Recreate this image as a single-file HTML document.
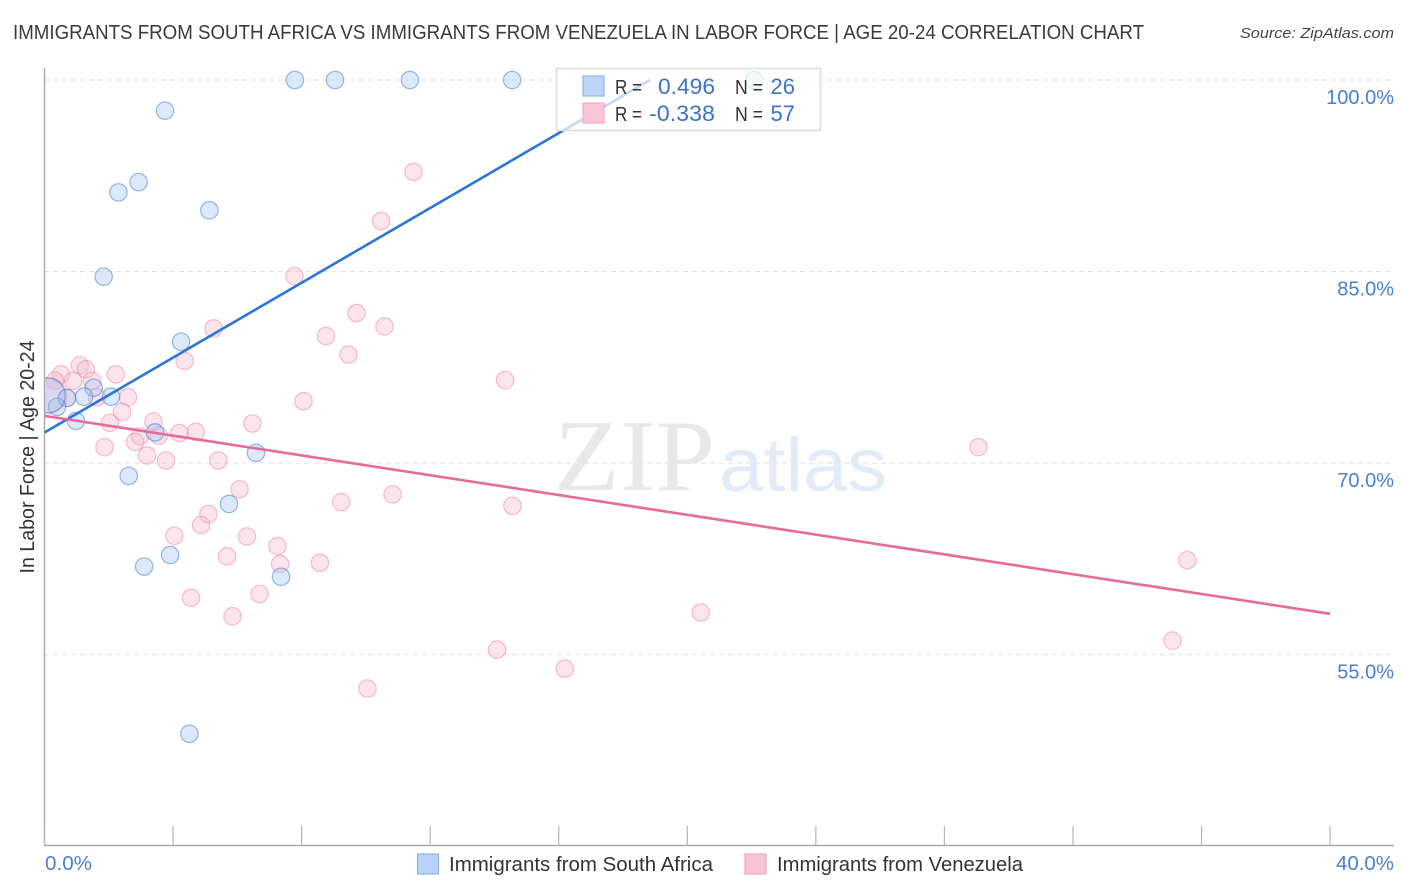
<!DOCTYPE html>
<html lang="en">
<head>
<meta charset="utf-8">
<title>Correlation chart</title>
<style>
html,body{margin:0;padding:0;background:#fff;width:1406px;height:892px;overflow:hidden}
svg{display:block;font-family:"Liberation Sans",sans-serif}
</style>
</head>
<body>
<svg id="chart" width="1406" height="892" viewBox="0 0 1406 892" xmlns="http://www.w3.org/2000/svg">
  <defs><clipPath id="plotClip"><rect x="45" y="60" width="1349" height="785"/></clipPath></defs>
  <text x="13" y="39" font-size="20" fill="#3a3a3a" textLength="1131" lengthAdjust="spacingAndGlyphs">IMMIGRANTS FROM SOUTH AFRICA VS IMMIGRANTS FROM VENEZUELA IN LABOR FORCE | AGE 20-24 CORRELATION CHART</text>
  <text x="1394" y="38" font-size="15" font-style="italic" fill="#444" text-anchor="end" textLength="154" lengthAdjust="spacingAndGlyphs">Source: ZipAtlas.com</text>
  <g id="grid"></g>
  <g>
    <text x="554" y="490" font-family="Liberation Serif, serif" font-size="102" fill="#e8e8e8" textLength="161" lengthAdjust="spacingAndGlyphs">ZIP</text>
    <text x="719" y="491" font-size="76" fill="#e2ebf8" textLength="168" lengthAdjust="spacingAndGlyphs">atlas</text>
  </g>
  <g id="axes"></g>
  <g id="pinkPoints" clip-path="url(#plotClip)"></g>
  <g id="bluePoints" clip-path="url(#plotClip)"></g>
  <g id="trends"></g>
  <g>
    <rect x="556.5" y="68.5" width="264" height="62" fill="#fff" fill-opacity="0.72" stroke="#dcdcdc" stroke-width="1.5"/>
    <rect x="583" y="76" width="21" height="20" fill="#b8d3f7" fill-opacity="0.95" stroke="#8fb6ea" stroke-width="1.2"/>
    <rect x="583" y="103" width="21" height="20" fill="#f9c3d5" fill-opacity="0.95" stroke="#f5a9c2" stroke-width="1.2"/>
    <text x="615" y="94" font-size="20" fill="#333" textLength="27" lengthAdjust="spacingAndGlyphs">R =</text>
    <text x="715" y="94" font-size="22" fill="#3a74c9" text-anchor="end" textLength="57" lengthAdjust="spacingAndGlyphs">0.496</text>
    <text x="735" y="94" font-size="20" fill="#333" textLength="28" lengthAdjust="spacingAndGlyphs">N =</text>
    <text x="795" y="94" font-size="22" fill="#3a74c9" text-anchor="end">26</text>
    <text x="615" y="121" font-size="20" fill="#333" textLength="27" lengthAdjust="spacingAndGlyphs">R =</text>
    <text x="715" y="121" font-size="22" fill="#3a74c9" text-anchor="end" textLength="66" lengthAdjust="spacingAndGlyphs">-0.338</text>
    <text x="735" y="121" font-size="20" fill="#333" textLength="28" lengthAdjust="spacingAndGlyphs">N =</text>
    <text x="795" y="121" font-size="22" fill="#3a74c9" text-anchor="end">57</text>
  </g>
  <text transform="translate(34,457) rotate(-90)" font-size="20" fill="#333" text-anchor="middle" textLength="233" lengthAdjust="spacingAndGlyphs">In Labor Force | Age 20-24</text>
  <text x="45" y="870" font-size="20" fill="#4a7fd0" textLength="47" lengthAdjust="spacingAndGlyphs">0.0%</text>
  <text x="1394" y="870" font-size="20" fill="#4a7fd0" text-anchor="end" textLength="58" lengthAdjust="spacingAndGlyphs">40.0%</text>
  <g>
    <g>
      <rect x="417.5" y="854" width="21" height="20" fill="#b8d3f7" stroke="#8fb0e0" stroke-width="1.2"/>
      <text x="449" y="871" font-size="20" fill="#333" textLength="264" lengthAdjust="spacingAndGlyphs">Immigrants from South Africa</text>
    </g>
    <g>
      <rect x="745" y="854" width="21" height="20" fill="#f9c3d5" stroke="#f0a9c0" stroke-width="1.2"/>
      <text x="777" y="871" font-size="20" fill="#333" textLength="246" lengthAdjust="spacingAndGlyphs">Immigrants from Venezuela</text>
    </g>
  </g>
</svg>
<script>
const yTickValues = [100, 85, 70, 55];
const yTickLabels = ["100.0%", "85.0%", "70.0%", "55.0%"];
const xTickValues = [0, 4, 8, 12, 16, 20, 24, 28, 32, 36, 40];

const blueX = [7.79, 9.04, 11.37, 14.55, 22.08, 3.75, 2.93, 2.30, 5.13, 1.84, 4.25, 1.53, 2.07, 1.23, 0.70, 0.39, 0.98, 3.44, 6.58, 2.62, 5.74, 3.91, 3.10, 7.36, 4.51, 0.10];
const blueY = [100, 100, 100, 100, 100, 97.6, 92.0, 91.2, 89.8, 84.6, 79.5, 75.9, 75.2, 75.2, 75.1, 74.4, 73.3, 72.4, 70.8, 69.0, 66.8, 62.8, 61.9, 61.1, 48.8, 75.3];
const blueR = [8.7, 8.7, 8.7, 8.7, 8.7, 8.7, 8.7, 8.7, 8.7, 8.7, 8.7, 8.7, 8.7, 8.7, 8.7, 8.7, 8.7, 8.7, 8.7, 8.7, 8.7, 8.7, 8.7, 8.7, 8.7, 17.5];

const pinkX = [11.48, 10.47, 7.78, 9.71, 5.26, 10.58, 8.76, 9.46, 4.36, 14.33, 8.06, 2.22, 1.10, 1.29, 0.51, 0.33, 0.89, 1.48, 2.60, 1.63, 2.41, 2.04, 3.39, 6.47, 2.97, 2.82, 3.56, 4.20, 4.71, 1.87, 3.19, 3.78, 5.41, 29.06, 6.07, 9.23, 10.83, 14.56, 5.10, 4.87, 4.04, 6.30, 7.25, 5.68, 7.33, 8.57, 35.56, 4.56, 6.69, 5.85, 20.42, 35.10, 14.08, 16.19, 10.05, 0.15, 0.70];
const pinkY = [92.8, 88.95, 84.65, 81.75, 80.55, 80.7, 79.95, 78.5, 78.0, 76.5, 74.85, 76.95, 77.65, 77.35, 76.95, 76.45, 76.45, 76.45, 75.15, 75.15, 74.0, 73.15, 73.25, 73.1, 72.1, 71.65, 72.15, 72.35, 72.45, 71.25, 70.6, 70.2, 70.2, 71.25, 67.95, 66.95, 67.55, 66.65, 66.0, 65.15, 64.3, 64.25, 63.5, 62.7, 62.1, 62.2, 62.4, 59.45, 59.75, 58.0, 58.3, 56.1, 55.4, 53.9, 52.35, 75.3, 75.1];
const pinkR = [8.7, 8.7, 8.7, 8.7, 8.7, 8.7, 8.7, 8.7, 8.7, 8.7, 8.7, 8.7, 8.7, 8.7, 8.7, 8.7, 8.7, 8.7, 8.7, 8.7, 8.7, 8.7, 8.7, 8.7, 8.7, 8.7, 8.7, 8.7, 8.7, 8.7, 8.7, 8.7, 8.7, 8.7, 8.7, 8.7, 8.7, 8.7, 8.7, 8.7, 8.7, 8.7, 8.7, 8.7, 8.7, 8.7, 8.7, 8.7, 8.7, 8.7, 8.7, 8.7, 8.7, 8.7, 8.7, 17.5, 8.7];

const trendBlueX = [0, 18.84];
const trendBlueY = [72.4, 100];
const trendPinkX = [0, 40];
const trendPinkY = [73.7, 58.2];

const NS = "http://www.w3.org/2000/svg";
const xScale = v => 44.5 + v * 32.14;
const yScale = v => 80 + (100 - v) * 12.77;

function make(tag, attrs, parent) {
  const el = document.createElementNS(NS, tag);
  for (const k in attrs) el.setAttribute(k, attrs[k]);
  parent.appendChild(el);
  return el;
}

const grid = document.getElementById("grid");
const axes = document.getElementById("axes");

yTickValues.forEach((v, i) => {
  const line = make("line", {x1: 44, x2: 1394, y1: yScale(v), y2: yScale(v), stroke: "#e2e2e2", "stroke-width": 1, "stroke-dasharray": "5 4"}, grid);
  
  
  const label = make("text", {x: 1394, y: yScale(v) + 24, "font-size": 20, fill: "#4a7fd0", "text-anchor": "end"}, axes);
  
  
  label.textContent = yTickLabels[i];
});

const yAxis = make("line", {x1: 44.5, x2: 44.5, y1: 68, y2: 846, stroke: "#aaa", "stroke-width": 1.4}, axes);


const xAxis = make("line", {x1: 44, x2: 1394, y1: 845.5, y2: 845.5, stroke: "#aaa", "stroke-width": 1.4}, axes);



xTickValues.forEach(v => {
  const t = make("line", {x1: xScale(v), x2: xScale(v), y1: 826, y2: 845, stroke: "#b5b5b5", "stroke-width": 1.2}, axes);
  
  
});

function drawPoints(groupId, xs, ys, rs, fill, stroke, name) {
  const g = document.getElementById(groupId);
  xs.forEach((x, i) => {
    const c = make("circle", {cx: xScale(x), cy: yScale(ys[i]), r: rs[i], fill: fill, "fill-opacity": 0.36, stroke: stroke, "stroke-opacity": 0.5, "stroke-width": 1.2}, g);
    
    
  });
}
drawPoints("pinkPoints", pinkX, pinkY, pinkR, "#f8b4ca", "#ec7fa3", "venezuela-point");
drawPoints("bluePoints", blueX, blueY, blueR, "#9cc2f2", "#2f74d0", "south-africa-point");

const trends = document.getElementById("trends");
const blueLine = make("line", {x1: xScale(trendBlueX[0]), y1: yScale(trendBlueY[0]), x2: xScale(trendBlueX[1]), y2: yScale(trendBlueY[1]), stroke: "#2b74d8", "stroke-width": 2.6}, trends);


const pinkLine = make("line", {x1: xScale(trendPinkX[0]), y1: yScale(trendPinkY[0]), x2: xScale(trendPinkX[1]), y2: yScale(trendPinkY[1]), stroke: "#e8699a", "stroke-width": 2.6}, trends);


</script>
</body>
</html>
